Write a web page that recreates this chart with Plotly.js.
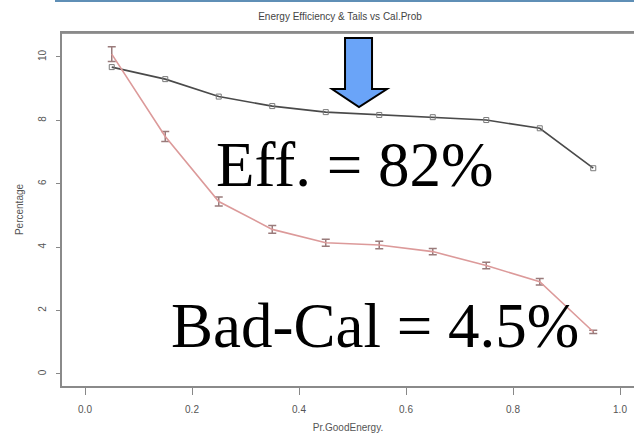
<!DOCTYPE html>
<html>
<head>
<meta charset="utf-8">
<script src="https://cdn.plot.ly/plotly-3.0.1.min.js"></script>
<style>
  html, body { margin: 0; padding: 0; background: #ffffff; overflow: hidden; }
  #chart { width: 634px; height: 443px; }
</style>
</head>
<body>
<div id="chart"></div>
<script>
// Calibration probability bins (bin centres)
const calProb = [0.05, 0.15, 0.25, 0.35, 0.45, 0.55, 0.65, 0.75, 0.85, 0.95];
// Energy efficiency (scaled, %/10) per bin
const efficiency = [9.68, 9.30, 8.75, 8.45, 8.26, 8.17, 8.10, 8.01, 7.75, 6.49];
// Tail fraction (%) per bin and its uncertainty
const tails = [10.09, 7.49, 5.44, 4.56, 4.14, 4.07, 3.86, 3.42, 2.91, 1.33];
const tailsErr = [0.23, 0.16, 0.14, 0.12, 0.11, 0.12, 0.10, 0.10, 0.10, 0.05];
// Axis ticks
const yTicks = [0, 2, 4, 6, 8, 10];
const xTicks = [0.0, 0.2, 0.4, 0.6, 0.8, 1.0];
const xTickText = ["0.0", "0.2", "0.4", "0.6", "0.8", "1.0"];

// Canvas geometry (pixels) and helpers to turn pixels into paper coords
const W = 634, H = 443;
const M = { l: 62, r: 0, t: 33, b: 57 };
const PW = W - M.l - M.r, PH = H - M.t - M.b;
const px = x => (x - M.l) / PW;
const py = y => (H - M.b - y) / PH;

const axisFont = { family: 'Liberation Sans, Arial, sans-serif', size: 10, color: '#555555' };

const traces = [
  {
    x: calProb, y: efficiency, type: 'scatter', mode: 'lines+markers',
    line: { color: '#4a4a4a', width: 1.6 },
    marker: { symbol: 'square-open', size: 5, color: '#7a7a7a', line: { width: 1 } },
    hoverinfo: 'x+y', showlegend: false
  },
  {
    x: calProb, y: tails, type: 'scatter', mode: 'lines',
    line: { color: '#dc9a9a', width: 1.6 },
    error_y: { type: 'data', array: tailsErr, visible: true, color: '#9a7b7b', thickness: 1.5, width: 4 },
    hoverinfo: 'x+y', showlegend: false
  }
];

// Down arrow pointing at the efficiency curve
const arrowPts = [[345, 38], [372, 38], [372, 89], [387, 89], [359, 107], [332, 89], [345, 89]];
const arrowPath = 'M ' + arrowPts.map(p => px(p[0]).toFixed(4) + ',' + py(p[1]).toFixed(4)).join(' L ') + ' Z';

const layout = {
  width: W, height: H,
  margin: M,
  paper_bgcolor: '#ffffff', plot_bgcolor: '#ffffff',
  title: {
    text: 'Energy Efficiency & Tails vs Cal.Prob',
    font: { family: 'Liberation Sans, Arial, sans-serif', size: 10, color: '#444444' },
    x: px(340), xref: 'paper', xanchor: 'center',
    y: 1 - 16 / H, yref: 'container', yanchor: 'middle'
  },
  xaxis: {
    range: [(M.l - 85) / 535, (W - M.r - 85) / 535],
    tickvals: xTicks, ticktext: xTickText,
    ticks: 'outside', ticklen: 7, tickwidth: 1, tickcolor: '#888888',
    ticklabelstandoff: 6,
    showgrid: false, zeroline: false,
    showline: true, linecolor: '#8a8a8a', linewidth: 2, mirror: true,
    tickfont: axisFont,
    title: { text: 'Pr.GoodEnergy.', font: axisFont, standoff: 10 }
  },
  yaxis: {
    range: [-0.38, -0.38 + PH / 31.7],
    tickvals: yTicks,
    ticks: 'outside', ticklen: 4, tickwidth: 1, tickcolor: '#888888',
    tickangle: -90, ticklabelstandoff: 6,
    showgrid: false, zeroline: false,
    showline: true, linecolor: '#8a8a8a', linewidth: 2, mirror: false,
    tickfont: axisFont,
    title: { text: 'Percentage', font: axisFont, standoff: 12 }
  },
  shapes: [
    {
      // slide rule across the top of the page
      type: 'line', xref: 'paper', yref: 'paper',
      x0: px(55), x1: px(W), y0: py(1), y1: py(1),
      line: { color: '#5f8fb6', width: 2 }
    },
    {
      // upper edge of the plot frame
      type: 'line', xref: 'paper', yref: 'paper', layer: 'below',
      x0: 0, x1: 1, y0: 1, y1: 1,
      line: { color: '#9a9a9a', width: 2 }
    },
    {
      type: 'path', xref: 'paper', yref: 'paper', path: arrowPath,
      fillcolor: '#6aa4f8', line: { color: '#000000', width: 2 }
    }
  ],
  annotations: [
    {
      text: 'Eff. = 82%', xref: 'paper', yref: 'paper',
      x: px(214), y: py(202), xanchor: 'left', yanchor: 'bottom',
      showarrow: false,
      font: { family: 'Liberation Serif, Times New Roman, serif', size: 63, color: '#000000' }
    },
    {
      text: 'Bad-Cal = 4.5%', xref: 'paper', yref: 'paper',
      x: px(169), y: py(363), xanchor: 'left', yanchor: 'bottom',
      showarrow: false,
      font: { family: 'Liberation Serif, Times New Roman, serif', size: 63, color: '#000000' }
    }
  ]
};

Plotly.newPlot('chart', traces, layout, { displayModeBar: false, staticPlot: true });
</script>
</body>
</html>
